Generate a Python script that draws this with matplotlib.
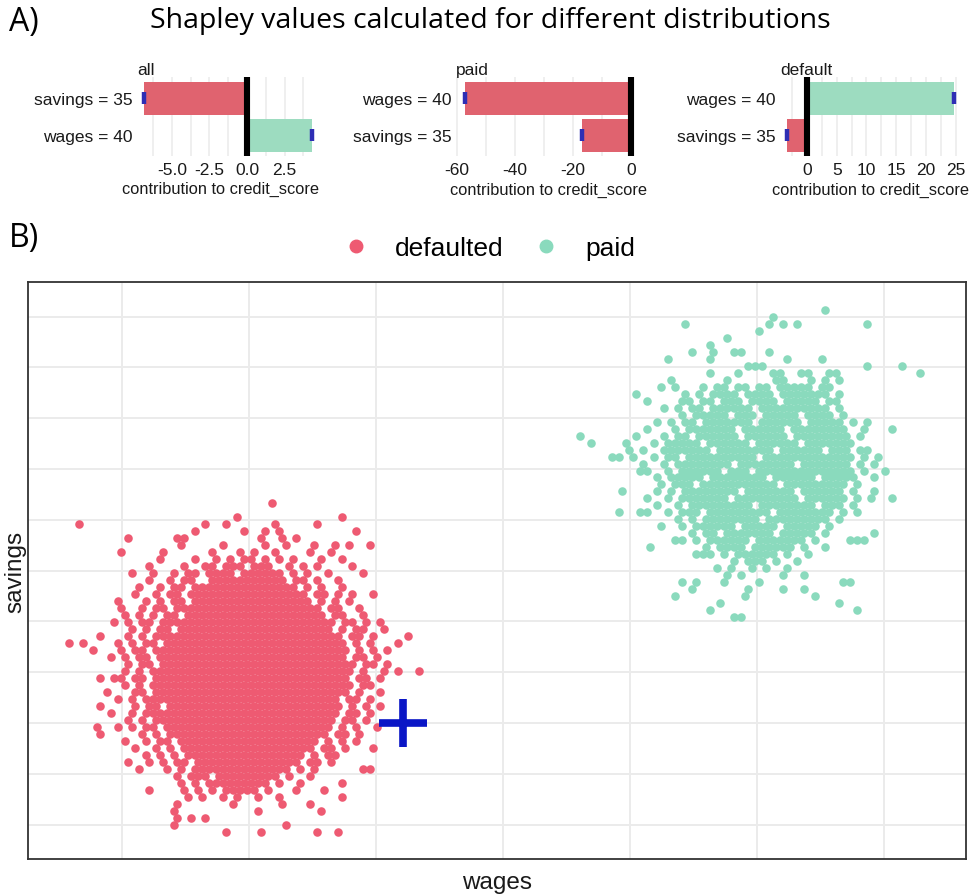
import matplotlib
matplotlib.use("Agg")
import matplotlib.pyplot as plt
from matplotlib.lines import Line2D

plt.rcParams['axes.unicode_minus'] = False
plt.rcParams['font.family'] = ['Liberation Sans', 'DejaVu Sans']

# ---------------- Panel A data ----------------
all_features = ["savings = 35", "wages = 40"]
all_values = [-6.85, 4.3]
paid_features = ["wages = 40", "savings = 35"]
paid_values = [-57.2, -16.8]
default_features = ["wages = 40", "savings = 35"]
default_values = [24.7, -3.4]

all_ticks = [-5.0, -2.5, 0.0, 2.5]
all_tick_labels = ["-5.0", "-2.5", "0.0", "2.5"]
paid_ticks = [-60, -40, -20, 0]
paid_tick_labels = ["-60", "-40", "-20", "0"]
default_ticks = [0, 5, 10, 15, 20, 25]
default_tick_labels = ["0", "5", "10", "15", "20", "25"]

# ---------------- Panel B data ----------------
# observation of interest
cross_wages = 42.1
cross_savings = 35.0
# point clouds read off the picture as cell maps: each row lists occupied
# cells (column numbers, "a-b" = run of cells); row 0 is the top row,
# odd rows are staggered by half a cell.
cell_size = (0.551, 0.689)          # wages, savings per cell
defaulted_origin = (15.39, 56.70)   # wages, savings of cell (0, 0)
paid_origin = (55.95, 76.39)

defaulted_rows = [
    "30",
    "",
    "25 40",
    "2 20 23 30 36",
    "19 26 29 31 42",
    "9 16 17 28 31 33",
    "17 23 29 32 36 39 41 44",
    "8 14 21 25 27 30 35 38",
    "14 19 22 24 26-27 29 31 33 37 40",
    "12 17 20-21 23-25 27-29 32 34 36 41",
    "10 13 16 18-19 21-24 26-31 33 35 38 43",
    "12 15 17-18 21-31 33-34 36 39",
    "11 14 16-17 19-33 35 37 40",
    "10 13 15-16 18-34 36-37 39 41 44",
    "8 12 14 16-17 19-35 37 39 41",
    "8 11 13-14 16-36 38 39 42",
    "9 11 13 15-16 18-37 39 40 43",
    "7 9 11-12 14-38 40-41 43 45",
    "10 12 14-15 17-38 40 42 43 46",
    "5 9 11 13-39 41-42 44 49",
    "1 3 8 10 12-13 15-40 42 44 48",
    "4 8 10-11 13-40 42 44 46",
    "7 9 11-12 14-40 42-43 45",
    "9 11-12 14-41 43 44 46",
    "9 11 13-41 43 46 48 51",
    "5 7 8 10-11 13-40 42-43 45",
    "9 11 13-41 43 44",
    "6 10-11 13-40 42 45",
    "8 10 12-39 41-42 44",
    "5 10 12-13 15-39 41 43 45",
    "7 10 12-39 41 42 44",
    "9 11 13-38 40-41 43",
    "5 8 10 12-13 15-38 40 42 45",
    "5 11 13 15-37 39-40 42",
    "9 12 14-15 17-36 38 40 42",
    "10 13 15 17-35 37-38 40 44",
    "12 14 16 18-34 36 38 39",
    "9 12 14 16-17 19-33 35 36 38",
    "11 15 17 19-32 34 36 43 44",
    "16 18-20 22-30 32 35",
    "17 19 21-29 31 34 40",
    "12 17 19 21 23-27 29 33 37",
    "18 20 23 25 28 31 40",
    "16 24 31 35",
    "16 28 37",
    "16 18 20",
    "16 32",
    "23 28 36 39",
]

paid_rows = [
    "",
    "35",
    "28",
    "15 27 29 31 41",
    "26",
    "21",
    "19",
    "16 19 22 23 27",
    "13 19 30 35",
    "24 25 26 41 46",
    "19 23 28 29 32 33 36 37 49",
    "13 21 28 29 33 35 37",
    "12 14 18 20 21 23 24 26 27 29 30-33 35 36",
    "8 15 17 19-22 24-27 29-35 37",
    "10 15 16 18-19 21-23 25-28 30-34 36 37",
    "12 14 16-17 19-24 26-35 37",
    "15 17-21 23-25 27-31 33-36 38",
    "11 13 15-16 18-24 26-31 33-37 39 41",
    "10 14 16-22 24-29 31-38 41 45",
    "0 8 12 14-15 17-22 24-29 31-38 40",
    "2 7 11 13-17 19-24 26-31 33-39",
    "7 9 12-18 20-27 29-34 36-38 40 41",
    "5 6 8 11 13-14 16-25 27-39 41 43",
    "9 12 14-21 23-30 32-38 40 42",
    "9 10 13 15-20 22-24 26-39 41 44",
    "11 13-17 19-26 28-33 35-39 42",
    "12 14-16 18-28 30-38 40",
    "6 11 13 15-22 24-30 32-37 39 42",
    "10 13 15-21 23-31 33-38 40 42 45",
    "11 14 16-24 26-33 35-37 39",
    "6 9 10 13 15-17 19-27 29-36 38 40",
    "14 16 18-25 27-35 37",
    "12 15 17-22 24-28 30-34 36",
    "16 18-19 21-27 29-33 35 42",
    "14 15 17 19-24 26-32 34 39 40 41",
    "10 18 20-23 25-30 32 35",
    "17 18 19 21 23-28 30 33",
    "22 24-26 28 31",
    "20 22 25 27 30",
    "21 23 29 32",
    "15 17 21 26 38 39",
    "16 24 29 32",
    "14 24 34",
    "20 37",
    "19 40",
    "22 23",
]

legend_labels = ["defaulted", "paid"]

# ---------------- styles ----------------
RED_BAR = "#E0636F"
GREEN_BAR = "#9DDCC0"
RED_PT = "#EE5A72"
GREEN_PT = "#8ADABD"
ERR_BLUE = "#2E2EB4"
CROSS_BLUE = "#0A16C6"
GRID = "#EBEBEB"
TXT = "#1a1a1a"


def decode(rows, origin):
    xs, ys = [], []
    for r, row in enumerate(rows):
        stagger = 0.5 if r % 2 else 0.0
        for tok in row.split():
            if "-" in tok:
                a, b = (int(t) for t in tok.split("-"))
                cols = range(a, b + 1)
            else:
                cols = [int(tok)]
            for c in cols:
                xs.append(origin[0] + (c + stagger - 0.25) * cell_size[0])
                ys.append(origin[1] - r * cell_size[1])
    return xs, ys


W, H = 975, 895
fig = plt.figure(figsize=(W / 100, H / 100), dpi=100)
fig.patch.set_facecolor("white")


def px_rect(x0, y0, x1, y1):
    return [x0 / W, 1 - y1 / H, (x1 - x0) / W, (y1 - y0) / H]


def bar_panel(rect, title, feats, vals, xlim, ticks, tick_labels, minor,
              xlabel_x=None):
    ax = fig.add_axes(rect)
    ypos = [1, 0]
    cols = [GREEN_BAR if v > 0 else RED_BAR for v in vals]
    ax.set_axisbelow(True)
    ax.barh(ypos, vals, height=0.9, color=cols, zorder=2)
    ax.plot(vals, ypos, ls="none", marker="|", ms=8, mew=3.2,
            color=ERR_BLUE, zorder=3, clip_on=False)
    ax.axvline(0, color="black", lw=4.4, zorder=4)
    ax.set_xlim(xlim)
    ax.set_ylim(-0.56, 1.58)
    ax.set_xticks(ticks)
    ax.set_xticklabels(tick_labels)
    ax.set_xticks(minor, minor=True)
    ax.grid(axis="x", which="both", color=GRID, lw=1.1)
    ax.set_yticks(ypos)
    ax.set_yticklabels(feats)
    ax.tick_params(axis="both", which="both", length=0, labelsize=12.5,
                   colors=TXT)
    ax.tick_params(axis="x", pad=4)
    ax.tick_params(axis="y", pad=3)
    for s in ax.spines.values():
        s.set_visible(False)
    ax.set_xlabel("contribution to credit_score", fontsize=11.8, labelpad=3.5,
                  color=TXT)
    if xlabel_x is not None:
        ax.xaxis.set_label_coords(xlabel_x, -(182 - 157) / 79)
    ax.set_title(title, loc="left", fontsize=12.5, pad=1, color=TXT)
    return ax


bar_panel(px_rect(137, 78, 312, 157), "all", all_features, all_values,
          (-7.33, 4.33), all_ticks, all_tick_labels,
          [-6.25, -3.75, -1.25, 1.25, 3.75], xlabel_x=(220 - 137) / 175)
bar_panel(px_rect(456, 78, 641, 157), "paid", paid_features, paid_values,
          (-60.3, 3.4), paid_ticks, paid_tick_labels, [-50, -30, -10])
bar_panel(px_rect(780, 78, 961, 157), "default", default_features,
          default_values, (-4.55, 25.9), default_ticks, default_tick_labels,
          [-2.5, 2.5, 7.5, 12.5, 17.5, 22.5])

# headings
HEAD_FONT = ["Open Sans", "DejaVu Sans"]
fig.text(9 / W, 1 - 23 / H, "A)", fontsize=23, family=HEAD_FONT,
         ha="left", va="center")
fig.text(9 / W, 1 - 238 / H, "B)", fontsize=23, family=HEAD_FONT,
         ha="left", va="center")
fig.text(490 / W, 1 - 21 / H,
         "Shapley values calculated for different distributions",
         fontsize=20.5, family=HEAD_FONT, ha="center", va="center")

# ---------------- Panel B ----------------
ax = fig.add_axes(px_rect(28, 283, 966, 860))
rx, ry = decode(defaulted_rows, defaulted_origin)
gx, gy = decode(paid_rows, paid_origin)
ax.set_axisbelow(True)
ax.scatter(rx, ry, s=38, color=RED_PT, lw=0, zorder=2)
ax.scatter(gx, gy, s=38, color=GREEN_PT, lw=0, zorder=2)
ax.plot([cross_wages], [cross_savings], ls="none", marker="+", ms=35, mew=5.5,
        color=CROSS_BLUE, zorder=3)
ax.set_xlim(12.6, 86.46)
ax.set_ylim(21.61, 78.41)
ax.set_xticks([20, 30, 40, 50, 60, 70, 80])
ax.set_yticks([25, 30, 35, 40, 45, 50, 55, 60, 65, 70, 75])
ax.set_xticklabels([])
ax.set_yticklabels([])
ax.tick_params(length=0)
ax.grid(True, color=GRID, lw=1.4)
for s in ax.spines.values():
    s.set_color("#333333")
    s.set_linewidth(1.3)
ax.set_xlabel("wages", fontsize=17.5, color=TXT)
ax.set_ylabel("savings", fontsize=17.5, color=TXT)
ax.xaxis.set_label_coords(0.5, -(872 - 860) / 577)
ax.yaxis.set_label_coords(-(28 - 26) / 938, 0.5)

handles = [Line2D([], [], ls="none", marker="o", ms=9, color=RED_PT),
           Line2D([], [], ls="none", marker="o", ms=9, color=GREEN_PT)]
fig.legend(handles, legend_labels, loc="center", ncol=2, frameon=False,
           bbox_to_anchor=(489 / W, 1 - 249 / H), fontsize=19,
           handlelength=1.0, handletextpad=1.0, columnspacing=1.1)

fig.savefig("out.png", dpi=100, facecolor="white")
